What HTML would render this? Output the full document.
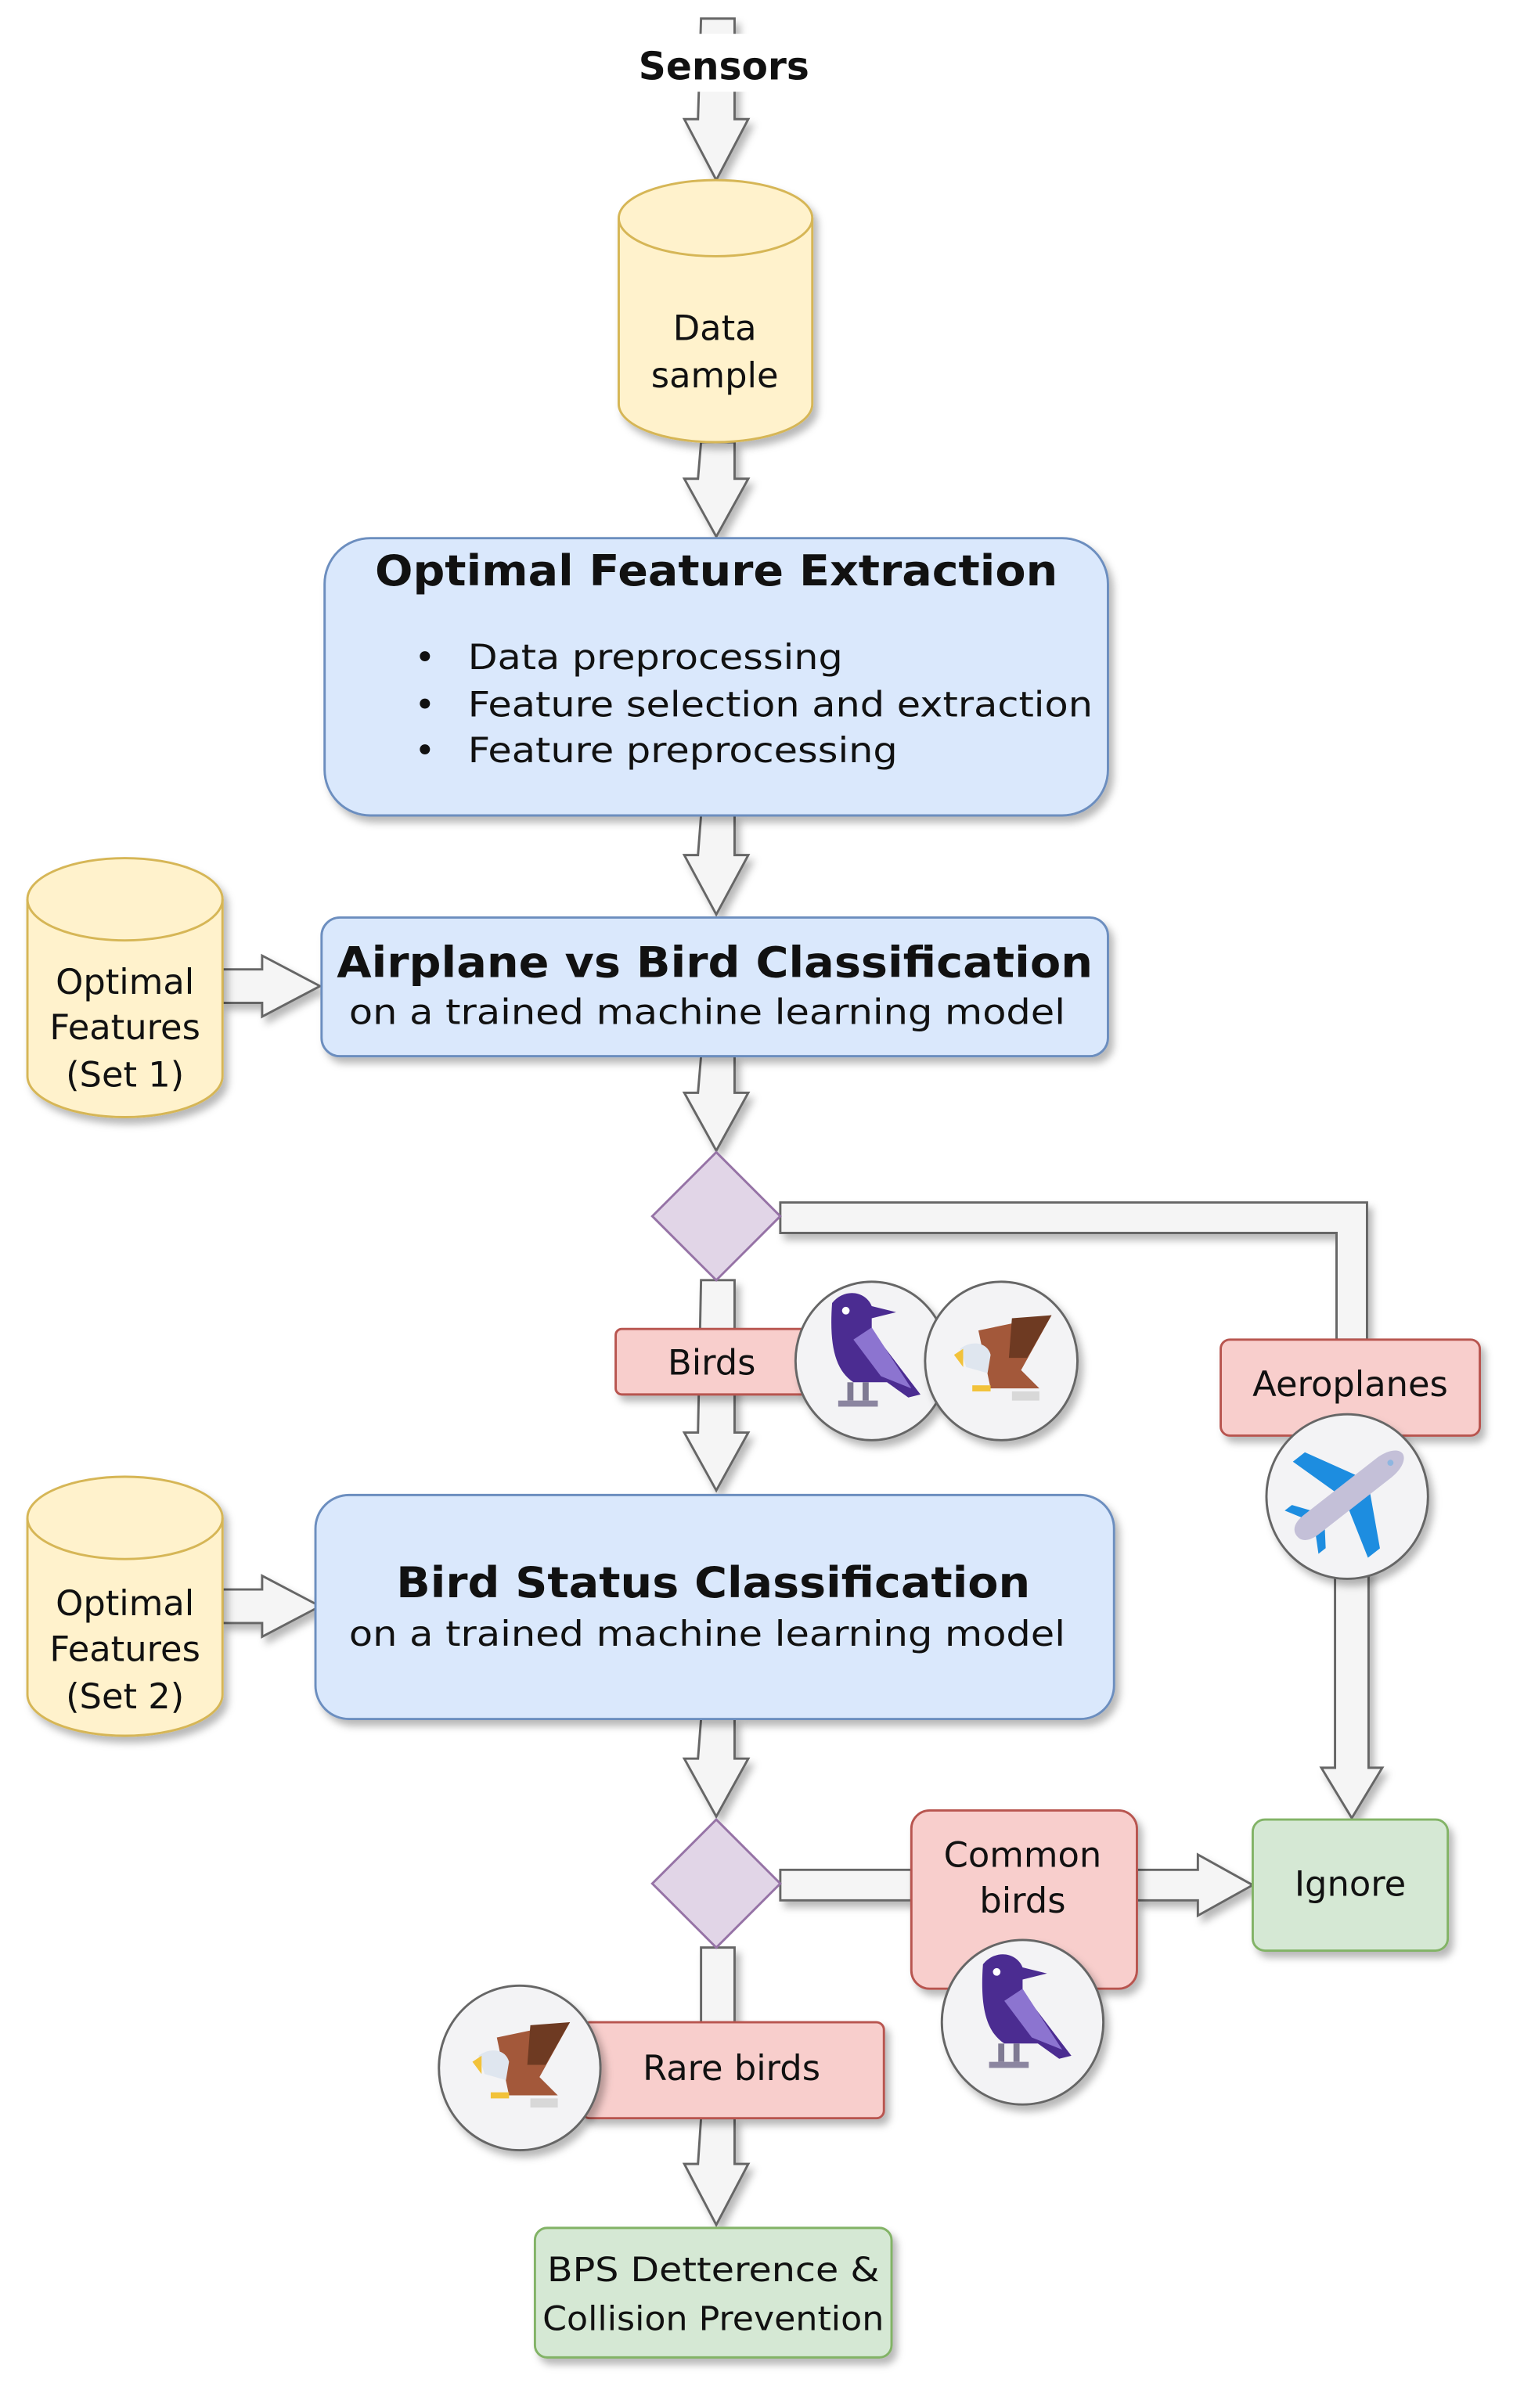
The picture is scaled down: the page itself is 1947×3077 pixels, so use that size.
<!DOCTYPE html>
<html><head><meta charset="utf-8"><style>html,body{margin:0;padding:0;background:#fff}svg{display:block}text{font-family:"DejaVu Sans","Liberation Sans",sans-serif;fill:#111}</style></head>
<body>
<svg width="1947" height="3077" viewBox="0 0 1000 1580" xmlns="http://www.w3.org/2000/svg">
<defs>
<filter id="sh" x="-20%" y="-20%" width="150%" height="150%"><feDropShadow dx="3" dy="4" stdDeviation="2.5" flood-color="#000" flood-opacity="0.28"/></filter>
<g id="crow">
<path d="M-28,-38 C-20,-48 -6,-46 -2,-36 L14,-32 L-2,-28 L-2,-20 L30,22 L22,24 L8,14 L-14,14 C-26,6 -30,-10 -28,-38Z" fill="#4b2c91"/>
<path d="M-14,-14 L-2,-22 L24,18 L4,10 Z" fill="#8c74d0"/>
<rect x="-18" y="14" width="4" height="12" fill="#7f7a93"/><rect x="-8" y="14" width="4" height="12" fill="#7f7a93"/>
<rect x="-24" y="26" width="26" height="4" fill="#8b85a0"/>
<circle cx="-19" cy="-33" r="2.5" fill="#fff"/>
</g>
<g id="eagle">
<path d="M-18,-20 L30,-30 L10,6 L22,18 L-10,18 Z" fill="#a3583a"/>
<path d="M4,-28 L30,-30 L14,-2 L2,-2Z" fill="#6e3a22"/>
<path d="M-30,-8 C-22,-14 -12,-12 -10,-4 L-12,8 L-26,4 Z" fill="#dfe6ef"/>
<path d="M-34,-4 L-28,-8 L-28,4Z" fill="#f2c23a"/>
<rect x="-22" y="16" width="12" height="4" fill="#f2c23a"/>
<rect x="4" y="20" width="18" height="6" fill="#d8d8d8"/>
</g>
<g id="plane">
<g transform="rotate(-38)">
<path d="M-4,-6 L-14,-40 L-4,-40 L14,-6 Z" fill="#1d8de0"/>
<path d="M-4,6 L-14,40 L-4,40 L14,6 Z" fill="#1d8de0"/>
<path d="M-30,-4 L-38,-18 L-32,-18 L-22,-4 Z" fill="#1d8de0"/>
<path d="M-30,4 L-38,18 L-32,18 L-22,4 Z" fill="#1d8de0"/>
<path d="M-42,0 C-42,-6 -36,-8 -30,-8 L30,-8 C40,-8 46,-4 46,0 C46,4 40,8 30,8 L-30,8 C-36,8 -42,6 -42,0Z" fill="#c4c0d8"/>
<circle cx="36" cy="0" r="2" fill="#8fb6e0"/>
</g>
</g>
</defs>

<!-- arrows (hollow block) -->
<g fill="#f5f5f5" stroke="#666" stroke-width="1.5" filter="url(#sh)">
<path d="M460,12 h22 v66 h9 l-21,40 l-21,-40 h9 z"/>
<path d="M460,290 h22 v24 h9 l-21,38 l-21,-38 h9 z"/>
<path d="M460,535 h22 v26 h9 l-21,39 l-21,-39 h9 z"/>
<path d="M460,693 h22 v24 h9 l-21,38 l-21,-38 h9 z"/>
<path d="M460,840 h22 v100 h9 l-21,38 l-21,-38 h9 z"/>
<path d="M460,1128 h22 v26 h9 l-21,38 l-21,-38 h9 z"/>
<path d="M460,1278 h22 v50 h-22 z"/>
<path d="M460,1390 h22 v30 h9 l-21,40 l-21,-40 h9 z"/>
<path d="M146,636 h26 v-9 l38,20 l-38,20 v-9 h-26 z"/>
<path d="M146,1043 h26 v-9 l38,20 l-38,20 v-9 h-26 z"/>
<path d="M512,789 h385 v90 h-20 v-70 h-365 z"/>
<path d="M876,1030 h22 v130 h9 l-20,33 l-20,-33 h9 z"/>
<path d="M512,1227 h86 v20 h-86 z"/>
<path d="M746,1227 h40 v-10 l36,20 l-36,20 v-10 h-40 z"/>
</g>
<rect x="455" y="22" width="40" height="38" fill="#fff"/>
<text x="475" y="52" font-size="25" font-weight="bold" text-anchor="middle">Sensors</text>

<!-- Data sample cylinder -->
<g filter="url(#sh)"><path d="M406,143 a63.5,25 0 0 1 127,0 v122 a63.5,25 0 0 1 -127,0 z" fill="#fff2cc" stroke="#d6b656" stroke-width="1.5"/></g>
<path d="M406,143 a63.5,25 0 0 0 127,0" fill="none" stroke="#d6b656" stroke-width="1.5"/>
<text x="469" y="223" font-size="23" text-anchor="middle">Data</text>
<text x="469" y="254" font-size="23" text-anchor="middle">sample</text>

<!-- OFE -->
<rect x="213" y="353" width="514" height="182" rx="30" fill="#dae8fc" stroke="#6c8ebf" stroke-width="1.5" filter="url(#sh)"/>
<text x="470" y="384" font-size="28" font-weight="bold" text-anchor="middle" textLength="448" lengthAdjust="spacingAndGlyphs">Optimal Feature Extraction</text>
<g font-size="23"><text x="272" y="439">•</text><text x="272" y="470">•</text><text x="272" y="500">•</text>
<text x="307" y="439" textLength="246" lengthAdjust="spacingAndGlyphs">Data preprocessing</text>
<text x="307" y="470" textLength="410" lengthAdjust="spacingAndGlyphs">Feature selection and extraction</text>
<text x="307" y="500" textLength="282" lengthAdjust="spacingAndGlyphs">Feature preprocessing</text></g>

<!-- Set1 cylinder -->
<g filter="url(#sh)"><path d="M18,590 a64,27 0 0 1 128,0 v116 a64,27 0 0 1 -128,0 z" fill="#fff2cc" stroke="#d6b656" stroke-width="1.5"/></g>
<path d="M18,590 a64,27 0 0 0 128,0" fill="none" stroke="#d6b656" stroke-width="1.5"/>
<text x="82" y="652" font-size="23" text-anchor="middle">Optimal</text>
<text x="82" y="682" font-size="23" text-anchor="middle">Features</text>
<text x="82" y="713" font-size="23" text-anchor="middle">(Set 1)</text>

<!-- Airplane vs bird -->
<rect x="211" y="602" width="516" height="91" rx="12" fill="#dae8fc" stroke="#6c8ebf" stroke-width="1.5" filter="url(#sh)"/>
<text x="469" y="641" font-size="28" font-weight="bold" text-anchor="middle" textLength="496" lengthAdjust="spacingAndGlyphs">Airplane vs Bird Classification</text>
<text x="464" y="672" font-size="23" text-anchor="middle" textLength="470" lengthAdjust="spacingAndGlyphs">on a trained machine learning model</text>

<!-- diamond 1 -->
<path d="M470,756 L512,798 L470,840 L428,798 Z" fill="#e1d5e7" stroke="#9673a6" stroke-width="1.5"/>

<!-- Birds -->
<rect x="404" y="872" width="126" height="43" rx="4" fill="#f8cecc" stroke="#b85450" stroke-width="1.5" filter="url(#sh)"/>
<text x="467" y="902" font-size="23" text-anchor="middle">Birds</text>
<ellipse cx="572" cy="893" rx="50" ry="52" fill="#f3f3f5" stroke="#666" stroke-width="1.5" filter="url(#sh)"/>
<use href="#crow" x="574" y="893"/>
<ellipse cx="657" cy="893" rx="50" ry="52" fill="#f3f3f5" stroke="#666" stroke-width="1.5" filter="url(#sh)"/>
<use href="#eagle" x="660" y="893"/>

<!-- Aeroplanes -->
<rect x="801" y="879" width="170" height="63" rx="6" fill="#f8cecc" stroke="#b85450" stroke-width="1.5" filter="url(#sh)"/>
<text x="886" y="916" font-size="23" text-anchor="middle">Aeroplanes</text>
<ellipse cx="884" cy="982" rx="53" ry="54" fill="#f3f3f5" stroke="#666" stroke-width="1.5" filter="url(#sh)"/>
<use href="#plane" x="884" y="982"/>

<!-- Set2 cylinder -->
<g filter="url(#sh)"><path d="M18,996 a64,27 0 0 1 128,0 v116 a64,27 0 0 1 -128,0 z" fill="#fff2cc" stroke="#d6b656" stroke-width="1.5"/></g>
<path d="M18,996 a64,27 0 0 0 128,0" fill="none" stroke="#d6b656" stroke-width="1.5"/>
<text x="82" y="1060" font-size="23" text-anchor="middle">Optimal</text>
<text x="82" y="1090" font-size="23" text-anchor="middle">Features</text>
<text x="82" y="1121" font-size="23" text-anchor="middle">(Set 2)</text>

<!-- Bird status -->
<rect x="207" y="981" width="524" height="147" rx="22" fill="#dae8fc" stroke="#6c8ebf" stroke-width="1.5" filter="url(#sh)"/>
<text x="468" y="1048" font-size="28" font-weight="bold" text-anchor="middle" textLength="416" lengthAdjust="spacingAndGlyphs">Bird Status Classification</text>
<text x="464" y="1080" font-size="23" text-anchor="middle" textLength="470" lengthAdjust="spacingAndGlyphs">on a trained machine learning model</text>

<!-- diamond 2 -->
<path d="M470,1194 L512,1236 L470,1278 L428,1236 Z" fill="#e1d5e7" stroke="#9673a6" stroke-width="1.5"/>

<!-- Common birds -->
<rect x="598" y="1188" width="148" height="117" rx="12" fill="#f8cecc" stroke="#b85450" stroke-width="1.5" filter="url(#sh)"/>
<text x="671" y="1225" font-size="23" text-anchor="middle">Common</text>
<text x="671" y="1255" font-size="23" text-anchor="middle">birds</text>
<ellipse cx="671" cy="1327" rx="53" ry="54" fill="#f3f3f5" stroke="#666" stroke-width="1.5" filter="url(#sh)"/>
<use href="#crow" x="673" y="1327"/>

<!-- Ignore -->
<rect x="822" y="1194" width="128" height="86" rx="8" fill="#d5e8d4" stroke="#82b366" stroke-width="1.5" filter="url(#sh)"/>
<text x="886" y="1244" font-size="23" text-anchor="middle">Ignore</text>

<!-- Rare birds -->
<rect x="382" y="1327" width="198" height="63" rx="5" fill="#f8cecc" stroke="#b85450" stroke-width="1.5" filter="url(#sh)"/>
<text x="480" y="1365" font-size="23" text-anchor="middle">Rare birds</text>
<ellipse cx="341" cy="1357" rx="53" ry="54" fill="#f3f3f5" stroke="#666" stroke-width="1.5" filter="url(#sh)"/>
<use href="#eagle" x="344" y="1357"/>

<!-- BPS -->
<rect x="351" y="1462" width="234" height="85" rx="8" fill="#d5e8d4" stroke="#82b366" stroke-width="1.5" filter="url(#sh)"/>
<text x="468" y="1497" font-size="22" text-anchor="middle" textLength="218" lengthAdjust="spacingAndGlyphs">BPS Detterence &amp;</text>
<text x="468" y="1529" font-size="22" text-anchor="middle" textLength="224" lengthAdjust="spacingAndGlyphs">Collision Prevention</text>
</svg>
</body></html>
